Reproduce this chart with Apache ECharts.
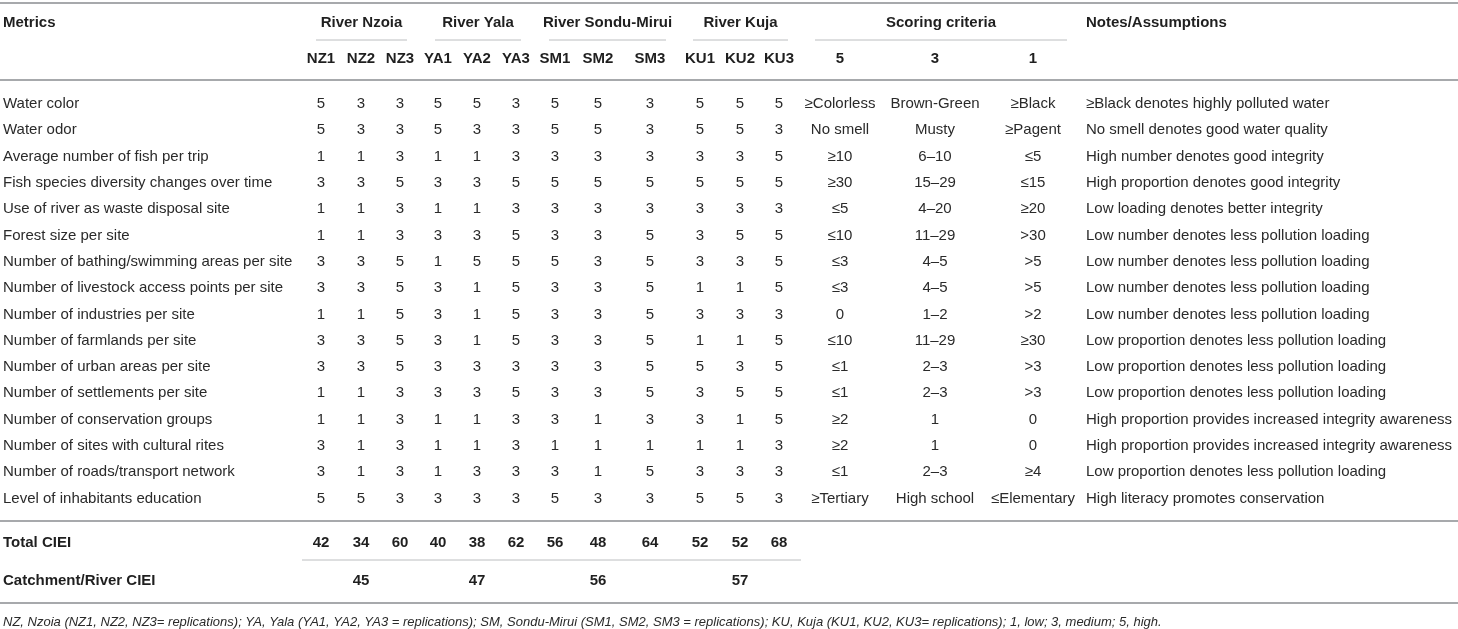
<!DOCTYPE html>
<html>
<head>
<meta charset="utf-8">
<title>CIEI scores</title>
<script src="https://cdn.jsdelivr.net/npm/echarts@6/dist/echarts.min.js"></script>
<style>
  html, body { margin: 0; padding: 0; background: #fff; }
  #table_view { width: 1458px; height: 629px; }
</style>
</head>
<body>
<div id="table_view"></div>
<script>
var rivers = ['River Nzoia', 'River Yala', 'River Sondu-Mirui', 'River Kuja'];
var sites = ['NZ1', 'NZ2', 'NZ3', 'YA1', 'YA2', 'YA3', 'SM1', 'SM2', 'SM3', 'KU1', 'KU2', 'KU3'];
var scoreLevels = ['5', '3', '1'];

var metrics = [
    'Water color',
    'Water odor',
    'Average number of fish per trip',
    'Fish species diversity changes over time',
    'Use of river as waste disposal site',
    'Forest size per site',
    'Number of bathing/swimming areas per site',
    'Number of livestock access points per site',
    'Number of industries per site',
    'Number of farmlands per site',
    'Number of urban areas per site',
    'Number of settlements per site',
    'Number of conservation groups',
    'Number of sites with cultural rites',
    'Number of roads/transport network',
    'Level of inhabitants education'
];

// one row per metric, one value per site (NZ1 ... KU3)
var scores = [
    [5, 3, 3, 5, 5, 3, 5, 5, 3, 5, 5, 5],
    [5, 3, 3, 5, 3, 3, 5, 5, 3, 5, 5, 3],
    [1, 1, 3, 1, 1, 3, 3, 3, 3, 3, 3, 5],
    [3, 3, 5, 3, 3, 5, 5, 5, 5, 5, 5, 5],
    [1, 1, 3, 1, 1, 3, 3, 3, 3, 3, 3, 3],
    [1, 1, 3, 3, 3, 5, 3, 3, 5, 3, 5, 5],
    [3, 3, 5, 1, 5, 5, 5, 3, 5, 3, 3, 5],
    [3, 3, 5, 3, 1, 5, 3, 3, 5, 1, 1, 5],
    [1, 1, 5, 3, 1, 5, 3, 3, 5, 3, 3, 3],
    [3, 3, 5, 3, 1, 5, 3, 3, 5, 1, 1, 5],
    [3, 3, 5, 3, 3, 3, 3, 3, 5, 5, 3, 5],
    [1, 1, 3, 3, 3, 5, 3, 3, 5, 3, 5, 5],
    [1, 1, 3, 1, 1, 3, 3, 1, 3, 3, 1, 5],
    [3, 1, 3, 1, 1, 3, 1, 1, 1, 1, 1, 3],
    [3, 1, 3, 1, 3, 3, 3, 1, 5, 3, 3, 3],
    [5, 5, 3, 3, 3, 3, 5, 3, 3, 5, 5, 3]
];

var criteriaHigh = ['≥Colorless', 'No smell', '≥10', '≥30', '≤5', '≤10', '≤3', '≤3', '0', '≤10', '≤1', '≤1', '≥2', '≥2', '≤1', '≥Tertiary'];
var criteriaMedium = ['Brown-Green', 'Musty', '6–10', '15–29', '4–20', '11–29', '4–5', '4–5', '1–2', '11–29', '2–3', '2–3', '1', '1', '2–3', 'High school'];
var criteriaLow = ['≥Black', '≥Pagent', '≤5', '≤15', '≥20', '>30', '>5', '>5', '>2', '≥30', '>3', '>3', '0', '0', '≥4', '≤Elementary'];

var notes = [
    '≥Black denotes highly polluted water',
    'No smell denotes good water quality',
    'High number denotes good integrity',
    'High proportion denotes good integrity',
    'Low loading denotes better integrity',
    'Low number denotes less pollution loading',
    'Low number denotes less pollution loading',
    'Low number denotes less pollution loading',
    'Low number denotes less pollution loading',
    'Low proportion denotes less pollution loading',
    'Low proportion denotes less pollution loading',
    'Low proportion denotes less pollution loading',
    'High proportion provides increased integrity awareness',
    'High proportion provides increased integrity awareness',
    'Low proportion denotes less pollution loading',
    'High literacy promotes conservation'
];

var totalCIEI = [42, 34, 60, 40, 38, 62, 56, 48, 64, 52, 52, 68];
var catchmentCIEI = [45, 47, 56, 57];

var footnote = 'NZ, Nzoia (NZ1, NZ2, NZ3= replications); YA, Yala (YA1, YA2, YA3 = replications); SM, Sondu-Mirui (SM1, SM2, SM3 = replications); KU, Kuja (KU1, KU2, KU3= replications); 1, low; 3, medium; 5, high.';

// ---- layout ----
var siteX = [321, 361, 400, 438, 477, 516, 555, 598, 650, 700, 740, 779];
var riverSpan = [[316, 407], [435, 521], [549, 666], [693, 788]];
var criteriaX = [840, 935, 1033];
var criteriaSpan = [815, 1067];
var notesX = 1086;
var leftX = 3;

var yHead1 = 23, yRule1 = 40, yHead2 = 59, yRule2 = 80;
var yRow0 = 104, rowStep = 26.3;
var yRule3 = 521, yTotal = 543, yRule4 = 560, yCatch = 581, yRule5 = 603, yFoot = 622;

var txtColor = '#2a2a2a';
var boldColor = '#1f1f1f';
var fontFamily = '"Liberation Sans", Arial, Helvetica, sans-serif';
var fontNormal = '15px ' + fontFamily;
var fontBold = 'bold 15px ' + fontFamily;

var els = [];

function txt(s, x, y, align, font) {
    var f = font || fontNormal;
    els.push({
        type: 'text',
        silent: true,
        style: {
            text: String(s),
            x: x,
            y: y,
            fill: f.indexOf('bold') === 0 ? boldColor : txtColor,
            font: f,
            align: align,
            verticalAlign: 'middle',
            textAlign: align,
            textVerticalAlign: 'middle'
        }
    });
}

function rule(x1, x2, y, color, w) {
    els.push({
        type: 'line',
        silent: true,
        shape: { x1: x1, y1: y, x2: x2, y2: y },
        style: { stroke: color, lineWidth: w }
    });
}

// horizontal rules
rule(0, 1458, 3, '#a7a9ac', 2);
rule(0, 1458, yRule2, '#a7a9ac', 2);
rule(0, 1458, yRule3, '#a7a9ac', 2);
rule(0, 1458, yRule5, '#a7a9ac', 2);
rule(302, 801, yRule4, '#bcbec0', 1);

// header
txt('Metrics', leftX, yHead1, 'left', fontBold);
txt('Notes/Assumptions', notesX, yHead1, 'left', fontBold);
rivers.forEach(function (name, i) {
    var sp = riverSpan[i];
    txt(name, (sp[0] + sp[1]) / 2, yHead1, 'center', fontBold);
    rule(sp[0], sp[1], yRule1, '#bcbec0', 1);
});
txt('Scoring criteria', (criteriaSpan[0] + criteriaSpan[1]) / 2, yHead1, 'center', fontBold);
rule(criteriaSpan[0], criteriaSpan[1], yRule1, '#bcbec0', 1);

sites.forEach(function (s, i) {
    txt(s, siteX[i], yHead2, 'center', fontBold);
});
scoreLevels.forEach(function (s, i) {
    txt(s, criteriaX[i], yHead2, 'center', fontBold);
});

// body rows
metrics.forEach(function (m, r) {
    var y = yRow0 + r * rowStep;
    txt(m, leftX, y, 'left');
    scores[r].forEach(function (v, c) {
        txt(v, siteX[c], y, 'center');
    });
    txt(criteriaHigh[r], criteriaX[0], y, 'center');
    txt(criteriaMedium[r], criteriaX[1], y, 'center');
    txt(criteriaLow[r], criteriaX[2], y, 'center');
    txt(notes[r], notesX, y, 'left');
});

// totals
txt('Total CIEI', leftX, yTotal, 'left', fontBold);
totalCIEI.forEach(function (v, c) {
    txt(v, siteX[c], yTotal, 'center', fontBold);
});
txt('Catchment/River CIEI', leftX, yCatch, 'left', fontBold);
catchmentCIEI.forEach(function (v, i) {
    txt(v, siteX[i * 3 + 1], yCatch, 'center', fontBold);
});

// footnote
txt(footnote, leftX, yFoot, 'left', 'italic 13px ' + fontFamily);

var myChart = echarts.init(document.getElementById('table_view'), null, { renderer: 'canvas' });
var option = {
    backgroundColor: '#ffffff',
    animation: false,
    graphic: { elements: els }
};
myChart.setOption(option);
</script>
</body>
</html>
